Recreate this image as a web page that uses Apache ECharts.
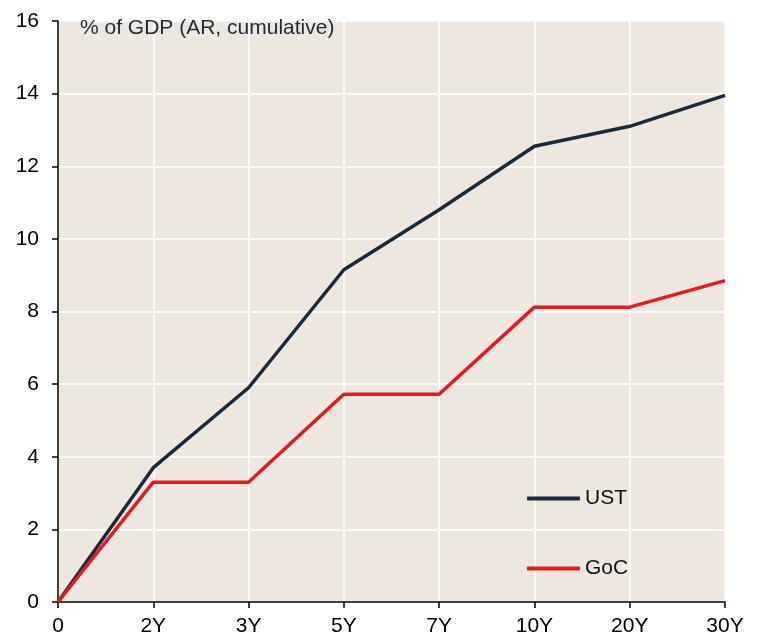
<!DOCTYPE html>
<html>
<head>
<meta charset="utf-8">
<script src="https://cdn.jsdelivr.net/npm/echarts@6/dist/echarts.min.js"></script>
<style>
  html, body { margin: 0; padding: 0; background: #fff; }
  #chart { width: 759px; height: 639px; }
</style>
</head>
<body>
<div id="chart"></div>
<script>
var tenors = ["0", "2Y", "3Y", "5Y", "7Y", "10Y", "20Y", "30Y"];
var ust = [0, 3.7, 5.9, 9.15, 10.8, 12.55, 13.1, 13.95];
var goc = [0, 3.3, 3.3, 5.72, 5.72, 8.12, 8.12, 8.85];

var myChart = echarts.init(document.getElementById("chart"));

myChart.setOption({
  textStyle: { fontFamily: "Liberation Sans, Arial, sans-serif" },
  grid: {
    left: 58,
    right: 34,
    top: 21,
    bottom: 37,
    show: true,
    backgroundColor: "#eee7e0",
    borderWidth: 0
  },
  graphic: [
    {
      type: "text",
      left: 80,
      top: 18,
      z: 100,
      style: {
        text: "% of GDP (AR, cumulative)",
        font: "21px Liberation Sans, Arial, sans-serif",
        fill: "#1e2a35"
      }
    }
  ],
  legend: {
    orient: "vertical",
    left: 522,
    top: 483,
    itemWidth: 53,
    itemHeight: 4,
    itemGap: 49,
    icon: "roundRect",
    textStyle: { fontSize: 21, color: "#111" },
    data: ["UST", "GoC"]
  },
  xAxis: {
    type: "category",
    boundaryGap: false,
    data: tenors,
    axisLine: { lineStyle: { color: "#000", width: 1.5 } },
    axisTick: { show: true, length: 6, interval: 0, lineStyle: { color: "#000", width: 1.5 } },
    axisLabel: { fontSize: 21, color: "#000", margin: 14, interval: 0 },
    splitLine: { show: true, interval: 0, lineStyle: { color: "#ffffff", width: 1.5 } }
  },
  yAxis: {
    type: "value",
    min: 0,
    max: 16,
    interval: 2,
    axisLine: { show: true, lineStyle: { color: "#000", width: 1.5 } },
    axisTick: { show: true, length: 6, lineStyle: { color: "#000", width: 1.5 } },
    axisLabel: { fontSize: 21, color: "#000", margin: 19 },
    splitLine: { show: true, lineStyle: { color: "#ffffff", width: 1.5 } }
  },
  series: [
    {
      name: "UST",
      type: "line",
      data: ust,
      symbol: "none",
      color: "#1b2a38",
      lineStyle: { width: 3.5, color: "#1b2a38" }
    },
    {
      name: "GoC",
      type: "line",
      data: goc,
      symbol: "none",
      color: "#e21b22",
      lineStyle: { width: 3.5, color: "#e21b22" }
    }
  ]
});
</script>
</body>
</html>
